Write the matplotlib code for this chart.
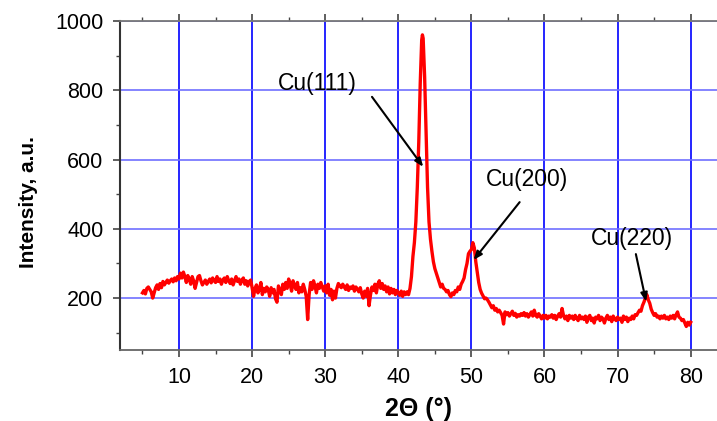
import matplotlib
matplotlib.use("Agg")
import matplotlib.pyplot as plt
from matplotlib.ticker import MultipleLocator

plt.rcParams['font.family'] = ['Liberation Sans', 'DejaVu Sans']

# XRD scan, 2-theta (deg) vs counts
two_theta = [
    5.0, 5.2, 5.4, 5.6, 5.8, 6.0, 6.2, 6.4, 6.6, 6.8, 7.0, 7.2, 7.4, 7.6, 7.8, 8.0, 8.2, 8.4, 8.6, 8.8,
    9.0, 9.2, 9.4, 9.6, 9.8, 10.0, 10.2, 10.4, 10.6, 10.8, 11.0, 11.2, 11.4, 11.6, 11.8, 12.0, 12.2, 12.4, 12.6, 12.8,
    13.0, 13.2, 13.4, 13.6, 13.8, 14.0, 14.2, 14.4, 14.6, 14.8, 15.0, 15.2, 15.4, 15.6, 15.8, 16.0, 16.2, 16.4, 16.6, 16.8,
    17.0, 17.2, 17.4, 17.6, 17.8, 18.0, 18.2, 18.4, 18.6, 18.8, 19.0, 19.2, 19.4, 19.6, 19.8, 20.0, 20.2, 20.4, 20.6, 20.8,
    21.0, 21.2, 21.4, 21.6, 21.8, 22.0, 22.2, 22.4, 22.6, 22.8, 23.0, 23.2, 23.4, 23.6, 23.8, 24.0, 24.2, 24.4, 24.6, 24.8,
    25.0, 25.2, 25.4, 25.6, 25.8, 26.0, 26.2, 26.4, 26.6, 26.8, 27.0, 27.2, 27.4, 27.6, 27.8, 28.0, 28.2, 28.4, 28.6, 28.8,
    29.0, 29.2, 29.4, 29.6, 29.8, 30.0, 30.2, 30.4, 30.6, 30.8, 31.0, 31.2, 31.4, 31.6, 31.8, 32.0, 32.2, 32.4, 32.6, 32.8,
    33.0, 33.2, 33.4, 33.6, 33.8, 34.0, 34.2, 34.4, 34.6, 34.8, 35.0, 35.2, 35.4, 35.6, 35.8, 36.0, 36.2, 36.4, 36.6, 36.8,
    37.0, 37.2, 37.4, 37.6, 37.8, 38.0, 38.2, 38.4, 38.6, 38.8, 39.0, 39.2, 39.4, 39.6, 39.8, 40.0, 40.2, 40.4, 40.6, 40.8,
    41.0, 41.2, 41.4, 41.6, 41.8, 42.0, 42.2, 42.4, 42.6, 42.8, 43.0, 43.2, 43.3, 43.4, 43.6, 43.8, 44.0, 44.2, 44.4, 44.6,
    44.8, 45.0, 45.2, 45.4, 45.6, 45.8, 46.0, 46.2, 46.4, 46.6, 46.8, 47.0, 47.2, 47.4, 47.6, 47.8, 48.0, 48.2, 48.4, 48.6,
    48.8, 49.0, 49.2, 49.4, 49.6, 49.8, 50.0, 50.2, 50.4, 50.6, 50.8, 51.0, 51.2, 51.4, 51.6, 51.8, 52.0, 52.2, 52.4, 52.6,
    52.8, 53.0, 53.2, 53.4, 53.6, 53.8, 54.0, 54.2, 54.4, 54.6, 54.8, 55.0, 55.2, 55.4, 55.6, 55.8, 56.0, 56.2, 56.4, 56.6,
    56.8, 57.0, 57.2, 57.4, 57.6, 57.8, 58.0, 58.2, 58.4, 58.6, 58.8, 59.0, 59.2, 59.4, 59.6, 59.8, 60.0, 60.2, 60.4, 60.6,
    60.8, 61.0, 61.2, 61.4, 61.6, 61.8, 62.0, 62.2, 62.4, 62.6, 62.8, 63.0, 63.2, 63.4, 63.6, 63.8, 64.0, 64.2, 64.4, 64.6,
    64.8, 65.0, 65.2, 65.4, 65.6, 65.8, 66.0, 66.2, 66.4, 66.6, 66.8, 67.0, 67.2, 67.4, 67.6, 67.8, 68.0, 68.2, 68.4, 68.6,
    68.8, 69.0, 69.2, 69.4, 69.6, 69.8, 70.0, 70.2, 70.4, 70.6, 70.8, 71.0, 71.2, 71.4, 71.6, 71.8, 72.0, 72.2, 72.4, 72.6,
    72.8, 73.0, 73.2, 73.4, 73.6, 73.8, 74.0, 74.2, 74.4, 74.6, 74.8, 75.0, 75.2, 75.4, 75.6, 75.8, 76.0, 76.2, 76.4, 76.6,
    76.8, 77.0, 77.2, 77.4, 77.6, 77.8, 78.0, 78.2, 78.4, 78.6, 78.8, 79.0, 79.2, 79.4, 79.6, 79.8, 80.0,
]
intensity = [
    215, 222, 212, 228, 232, 225, 218, 200, 215, 230, 238, 225, 242, 230, 248, 238, 245, 252, 243, 250,
    255, 247, 258, 250, 262, 255, 272, 258, 275, 262, 245, 265, 255, 240, 262, 250, 228, 245, 262, 265,
    250, 238, 245, 252, 240, 248, 255, 244, 258, 250, 245, 262, 248, 255, 240, 252, 258, 245, 262, 250,
    242, 255, 238, 250, 262, 248, 255, 240, 252, 258, 240, 250, 235, 248, 252, 230, 205, 228, 238, 215,
    225, 245, 210, 228, 218, 232, 225, 205, 230, 215, 225, 198, 188, 235, 222, 210, 240, 225, 245, 228,
    255, 240, 220, 250, 235, 225, 245, 215, 230, 218, 240, 225, 205, 138, 210, 245, 225, 250, 235, 215,
    240, 228, 245, 232, 220, 235, 215, 240, 208, 225, 195, 220, 200, 228, 242, 235, 230, 240, 232, 225,
    238, 222, 232, 228, 235, 220, 232, 226, 218, 230, 212, 200, 220, 205, 228, 178, 210, 232, 222, 240,
    215, 240, 250, 228, 242, 225, 235, 218, 232, 212, 228, 215, 225, 210, 222, 215, 208, 220, 205, 218,
    210, 218, 210, 228, 262, 320, 360, 420, 520, 650, 820, 945, 960, 950, 840, 680, 520, 420, 370, 335,
    305, 285, 272, 258, 245, 232, 240, 228, 225, 218, 222, 210, 204, 215, 210, 222, 218, 232, 225, 240,
    248, 258, 282, 300, 328, 335, 340, 360, 345, 305, 275, 245, 225, 214, 206, 198, 200, 195, 188, 180,
    172, 178, 165, 170, 160, 165, 158, 150, 125, 160, 152, 158, 148, 155, 162, 150, 156, 145, 152, 148,
    155, 150, 158, 148, 155, 145, 152, 160, 148, 165, 150, 145, 155, 148, 140, 150, 142, 150, 140, 148,
    145, 152, 142, 150, 138, 148, 155, 145, 170, 150, 140, 148, 135, 150, 142, 148, 138, 150, 142, 135,
    150, 140, 145, 138, 148, 130, 145, 150, 135, 142, 128, 145, 140, 150, 135, 145, 140, 128, 142, 150,
    138, 145, 132, 148, 140, 135, 145, 138, 142, 130, 148, 138, 145, 132, 142, 138, 148, 140, 152, 150,
    158, 165, 162, 178, 188, 200, 210, 195, 185, 168, 158, 150, 155, 145, 148, 140, 148, 142, 150, 140,
    145, 138, 148, 142, 150, 140, 152, 160, 145, 142, 135, 138, 128, 118, 130, 122, 130,
]

# peak labels: text, text position, arrow tail, arrow head
peak_names = ['Cu(111)', 'Cu(200)', 'Cu(220)']
label_pos = [(28.9, 821), (57.6, 541), (72.0, 373)]
arrow_tail = [(36.4, 781), (56.6, 477), (72.5, 327)]
arrow_head = [(43.4, 579), (50.3, 310), (73.9, 190)]

fig = plt.figure(figsize=(7.17, 4.21), dpi=100)
ax = fig.add_axes([0.1674, 0.1686, 0.8326, 0.7815])

ax.plot(two_theta, intensity, color='#ff0000', lw=2.4, zorder=3)

ax.set_xlim(1.93, 83.6)
ax.set_ylim(50, 1000)
ax.xaxis.set_major_locator(MultipleLocator(10))
ax.xaxis.set_minor_locator(MultipleLocator(5))
ax.yaxis.set_major_locator(MultipleLocator(200))
ax.yaxis.set_minor_locator(MultipleLocator(100))
ax.set_yticks([200, 400, 600, 800, 1000])

ax.xaxis.grid(True, which='major', color='#0000ff', lw=1.2)
ax.yaxis.grid(True, which='major', color='#6f6fff', lw=1.2)
ax.set_axisbelow(True)

ax.spines['right'].set_visible(False)
ax.spines['left'].set_color('#333333')
ax.spines['left'].set_linewidth(1.5)
ax.spines['bottom'].set_color('#666666')
ax.spines['bottom'].set_linewidth(1.3)
ax.spines['top'].set_color('#777777')
ax.spines['top'].set_linewidth(1.3)

ax.tick_params(which='both', direction='out', top=True, right=False,
               colors='#444444', labelcolor='black', labelsize=15.5)
ax.tick_params(which='major', length=5, width=1.2)
ax.tick_params(which='minor', length=3, width=1.0)
ax.tick_params(axis='x', pad=7)
ax.tick_params(axis='y', pad=7)

ax.set_xlabel('2Θ (°)', fontsize=18, fontweight='bold', labelpad=7)
ax.set_ylabel('Intensity, a.u.', fontsize=15, fontweight='bold')
ax.yaxis.set_label_coords(-0.138, 0.45)

for name, pos, tail, head in zip(peak_names, label_pos, arrow_tail, arrow_head):
    ax.text(pos[0], pos[1], name, fontsize=16.5, ha='center', va='center', zorder=5)
    ax.annotate('', xy=head, xytext=tail,
                arrowprops=dict(arrowstyle='-|>,head_length=0.5,head_width=0.2',
                                color='black', lw=1.5, shrinkA=0, shrinkB=0),
                zorder=5)

fig.savefig('out.png', dpi=100)
